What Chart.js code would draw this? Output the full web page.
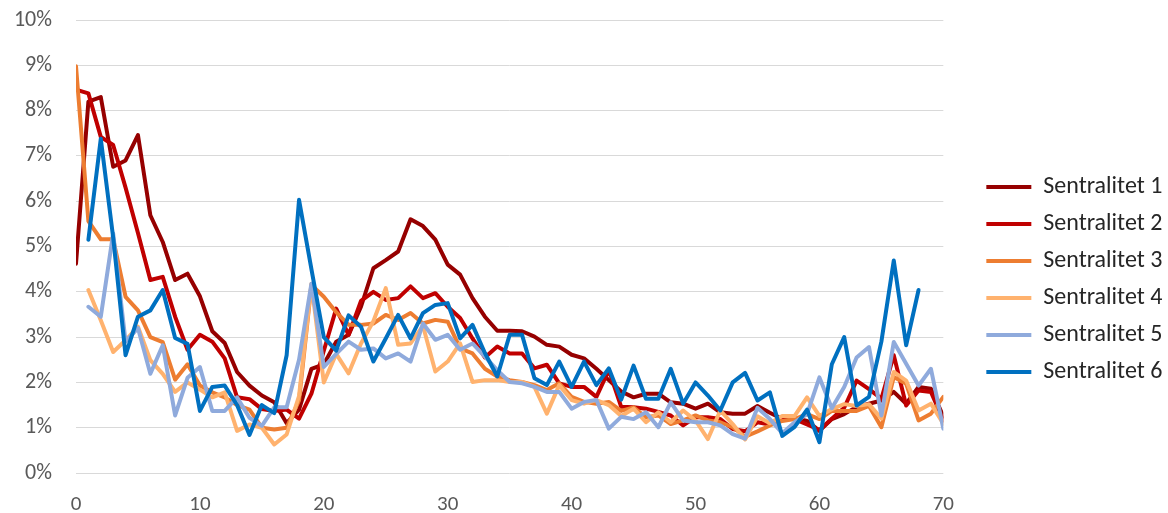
<!DOCTYPE html>
<html>
<head>
<meta charset="utf-8">
<script src="https://cdn.jsdelivr.net/npm/chart.js@4.4.1/dist/chart.umd.min.js"></script>
<style>
  html, body { margin: 0; padding: 0; background: #ffffff; }
  #wrap { width: 1168px; height: 513px; }
</style>
</head>
<body>
<div id="wrap"><canvas id="myLineChart" width="1168" height="513"></canvas></div>

<script>
  // x positions (0..70)
  const positions = [0, 1, 2, 3, 4, 5, 6, 7, 8, 9,
    10, 11, 12, 13, 14, 15, 16, 17, 18, 19,
    20, 21, 22, 23, 24, 25, 26, 27, 28, 29,
    30, 31, 32, 33, 34, 35, 36, 37, 38, 39,
    40, 41, 42, 43, 44, 45, 46, 47, 48, 49,
    50, 51, 52, 53, 54, 55, 56, 57, 58, 59,
    60, 61, 62, 63, 64, 65, 66, 67, 68, 69,
    70];

  const seriesNames = ["Sentralitet 1", "Sentralitet 2", "Sentralitet 3",
                       "Sentralitet 4", "Sentralitet 5", "Sentralitet 6"];

  // values in percent
  const sentralitet1 = [4.62, 8.2, 8.3, 6.76, 6.9, 7.46, 5.69, 5.1, 4.26, 4.4,
    3.9, 3.13, 2.87, 2.23, 1.93, 1.71, 1.56, 1.1, 1.4, 2.3,
    2.4, 2.9, 3.05, 3.67, 4.52, 4.7, 4.89, 5.6, 5.45, 5.15,
    4.6, 4.38, 3.86, 3.45, 3.14, 3.14, 3.13, 3.01, 2.83, 2.79,
    2.61, 2.53, 2.3, 2.05, 1.8, 1.67, 1.75, 1.75, 1.56, 1.53,
    1.42, 1.53, 1.34, 1.31, 1.31, 1.48, 1.33, 1.19, 1.22, 1.15,
    0.93, 1.19, 1.3, 1.46, 1.53, 1.6, 1.79, 1.53, 1.9, 1.86,
    1.25];
  const sentralitet2 = [8.46, 8.38, 7.42, 7.24, 6.3, 5.3, 4.26, 4.33, 3.45, 2.72,
    3.05, 2.9, 2.53, 1.67, 1.63, 1.41, 1.37, 1.4, 1.2, 1.75,
    2.7, 3.63, 3.05, 3.8, 4.0, 3.82, 3.86, 4.12, 3.86, 3.97,
    3.67, 3.42, 2.97, 2.55, 2.79, 2.64, 2.64, 2.31, 2.39, 1.98,
    1.9, 1.9, 1.68, 2.27, 1.46, 1.45, 1.42, 1.35, 1.27, 1.05,
    1.23, 1.23, 1.19, 0.97, 0.92, 1.12, 1.07, 1.22, 1.19, 1.07,
    0.95, 1.2, 1.44, 2.04, 1.85, 1.64, 2.6, 1.49, 1.82, 1.79,
    1.16];
  const sentralitet3 = [8.98, 5.56, 5.16, 5.16, 3.89, 3.59, 3.0, 2.89, 2.06, 2.4,
    1.93, 1.78, 1.67, 1.5, 1.4, 1.0, 0.96, 1.0, 1.6, 4.15,
    3.89, 3.55, 3.27, 3.27, 3.3, 3.49, 3.38, 3.53, 3.3, 3.38,
    3.34, 2.75, 2.64, 2.3, 2.13, 2.05, 2.01, 1.94, 1.83, 1.98,
    1.68, 1.57, 1.53, 1.57, 1.37, 1.45, 1.23, 1.27, 1.08, 1.16,
    1.27, 1.16, 1.12, 1.01, 0.8, 0.92, 1.05, 1.15, 1.19, 1.3,
    1.19, 1.37, 1.37, 1.37, 1.48, 1.01, 2.12, 1.97, 1.16, 1.31,
    1.68];
  const sentralitet4 = [null, 4.04, 3.37, 2.67, 2.93, 3.23, 2.49, 2.19, 1.79, 2.0,
    1.84, 1.67, 1.78, 0.93, 1.07, 1.0, 0.63, 0.85, 1.7, 4.18,
    2.0, 2.63, 2.2, 2.86, 3.35, 4.08, 2.83, 2.86, 3.25, 2.24,
    2.46, 2.86, 2.01, 2.05, 2.05, 2.01, 2.01, 1.9, 1.31, 1.94,
    1.61, 1.53, 1.61, 1.5, 1.26, 1.42, 1.12, 1.34, 1.12, 1.38,
    1.16, 0.75, 1.38, 1.08, 0.74, 1.25, 1.1, 1.26, 1.26, 1.67,
    1.26, 1.41, 1.52, 1.48, 1.52, 1.2, 2.23, 2.04, 1.38, 1.53,
    1.09];
  const sentralitet5 = [null, 3.67, 3.45, 5.29, 2.9, 3.2, 2.19, 2.82, 1.27, 2.1,
    2.34, 1.37, 1.37, 1.67, 1.22, 1.04, 1.45, 1.45, 2.5, 4.18,
    2.34, 2.63, 2.9, 2.72, 2.75, 2.53, 2.64, 2.46, 3.3, 2.94,
    3.05, 2.72, 2.86, 2.57, 2.27, 2.01, 1.98, 1.9, 1.79, 1.79,
    1.42, 1.57, 1.61, 0.98, 1.24, 1.19, 1.34, 1.01, 1.56, 1.16,
    1.12, 1.12, 1.05, 0.86, 0.76, 1.44, 1.19, 0.88, 1.12, 1.3,
    2.11, 1.43, 1.9, 2.55, 2.78, 1.27, 2.89, 2.41, 1.93, 2.3,
    0.98];
  const sentralitet6 = [null, 5.15, 7.38, 5.2, 2.6, 3.45, 3.59, 4.04, 2.98, 2.85,
    1.37, 1.9, 1.93, 1.5, 0.84, 1.5, 1.32, 2.6, 6.03, 4.5,
    3.0, 2.7, 3.48, 3.23, 2.46, 2.97, 3.49, 2.97, 3.53, 3.71,
    3.75, 2.97, 3.27, 2.65, 2.13, 3.05, 3.05, 2.09, 1.94, 2.46,
    1.9, 2.46, 1.94, 2.31, 1.62, 2.37, 1.64, 1.64, 2.3, 1.53,
    2.0, 1.71, 1.38, 2.0, 2.21, 1.6, 1.78, 0.82, 1.02, 1.4,
    0.68, 2.4, 3.0, 1.49, 1.68, 2.9, 4.69, 2.82, 4.04, null,
    null];

  const allSeries = [sentralitet1, sentralitet2, sentralitet3,
                     sentralitet4, sentralitet5, sentralitet6];
  const colors = ["#960000", "#C00000", "#ED7D31", "#FFB26E", "#8FAADC", "#0070C0"];

  const fontFamily = "Carlito, Calibri, Lato, 'Open Sans', sans-serif";

  function drawLineChart() {
    let datasets = allSeries.map(function(values, i) {
      return {
        label: seriesNames[i],
        data: positions.map(function(x, j) { return {x: x, y: values[j]}; }),
        borderColor: colors[i],
        backgroundColor: colors[i],
        borderWidth: 4,
        borderJoinStyle: "round",
        borderCapStyle: "round",
        pointRadius: 0,
        pointHoverRadius: 0,
        tension: 0,
        fill: false,
        order: 6 - i  // later series drawn on top
      };
    });

    var ctx = document.getElementById("myLineChart").getContext("2d");

    var myLineChart = new Chart(ctx, {
      type: 'line',
      data: { datasets: datasets },
      options: {
        responsive: false,
        animation: false,
        layout: { padding: { left: 0, right: 0, top: 20, bottom: 0 } },
        plugins: {
          tooltip: { enabled: false },
          legend: {
            position: 'right',
            title: { display: true, text: '', font: { size: 10 }, padding: { top: 14, bottom: 0 } },
            labels: {
              sort: function(a, b) { return a.datasetIndex - b.datasetIndex; },
              usePointStyle: true,
              pointStyle: 'line',
              pointStyleWidth: 45,
              boxHeight: 24,
              padding: 13,
              color: '#262626',
              font: { family: fontFamily, size: 24 }
            }
          }
        },
        scales: {
          x: {
            type: 'linear',
            min: 0,
            max: 70,
            ticks: { stepSize: 10, color: '#595959', padding: 11,
                     font: { family: fontFamily, size: 21 } },
            grid: { display: false },
            border: { display: false },
            afterFit: function(scale) { scale.height = 40; }
          },
          y: {
            min: 0,
            max: 10,
            ticks: { stepSize: 1, color: '#595959', padding: 0,
                     font: { family: fontFamily, size: 22 },
                     callback: function(v) { return v + '%'; } },
            grid: { color: '#D9D9D9', lineWidth: 1, drawTicks: true,
                    tickLength: 24, tickColor: 'rgba(0,0,0,0)' },
            border: { display: false },
            afterFit: function(scale) { scale.width = 76; }
          },
          gap: {
            type: 'linear',
            position: 'right',
            display: true,
            ticks: { display: false },
            grid: { display: false },
            border: { display: false },
            afterFit: function(scale) { scale.width = 30; }
          }
        }
      }
    });
  }

  drawLineChart();
</script>
</body>
</html>
